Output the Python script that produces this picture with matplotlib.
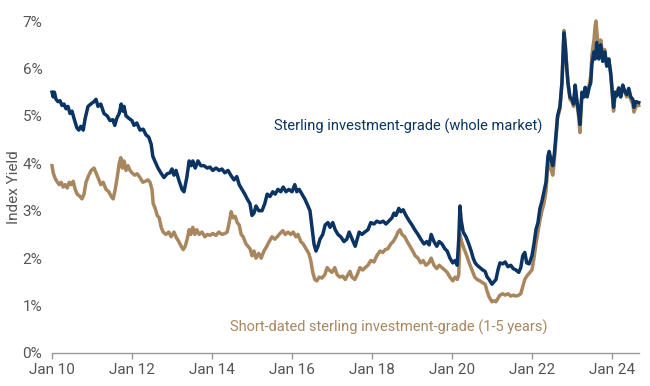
import matplotlib
matplotlib.use('Agg')
import matplotlib.pyplot as plt

# decimal years, yield in %
navy_t = [2010.00, 2010.03, 2010.06, 2010.10, 2010.15, 2010.20, 2010.25, 2010.30, 2010.35, 2010.40,
          2010.45, 2010.50, 2010.55, 2010.62, 2010.67, 2010.72, 2010.78, 2010.83, 2010.90, 2010.97,
          2011.05, 2011.10, 2011.15, 2011.22, 2011.30, 2011.38, 2011.45, 2011.52, 2011.57, 2011.62,
          2011.68, 2011.73, 2011.77, 2011.80, 2011.85, 2011.92, 2012.00, 2012.05, 2012.12, 2012.20,
          2012.28, 2012.35, 2012.42, 2012.48, 2012.52, 2012.57, 2012.65, 2012.72, 2012.80, 2012.88,
          2012.95, 2013.00, 2013.05, 2013.10, 2013.17, 2013.25, 2013.30, 2013.37, 2013.43, 2013.48,
          2013.52, 2013.58, 2013.65, 2013.72, 2013.80, 2013.88, 2013.95, 2014.02, 2014.10, 2014.18,
          2014.25, 2014.32, 2014.40, 2014.47, 2014.55, 2014.62, 2014.68, 2014.75, 2014.82, 2014.88,
          2014.95, 2015.00, 2015.05, 2015.10, 2015.17, 2015.25, 2015.32, 2015.38, 2015.45, 2015.52,
          2015.58, 2015.65, 2015.72, 2015.78, 2015.85, 2015.92, 2016.00, 2016.07, 2016.12, 2016.18,
          2016.25, 2016.32, 2016.40, 2016.45, 2016.50, 2016.55, 2016.60, 2016.65, 2016.70, 2016.77,
          2016.83, 2016.90, 2016.95, 2017.02, 2017.08, 2017.15, 2017.22, 2017.30, 2017.37, 2017.43,
          2017.48, 2017.53, 2017.58, 2017.63, 2017.68, 2017.75, 2017.82, 2017.90, 2017.97, 2018.05,
          2018.12, 2018.20, 2018.28, 2018.35, 2018.42, 2018.50, 2018.55, 2018.60, 2018.67, 2018.72,
          2018.78, 2018.85, 2018.92, 2019.00, 2019.07, 2019.15, 2019.22, 2019.30, 2019.37, 2019.43,
          2019.48, 2019.55, 2019.62, 2019.68, 2019.75, 2019.82, 2019.88, 2019.95, 2020.02, 2020.08,
          2020.13, 2020.17, 2020.20, 2020.23, 2020.28, 2020.35, 2020.42, 2020.48, 2020.53, 2020.58,
          2020.63, 2020.70, 2020.77, 2020.83, 2020.88, 2020.93, 2021.00, 2021.05, 2021.10, 2021.15,
          2021.20, 2021.27, 2021.33, 2021.40, 2021.47, 2021.53, 2021.60, 2021.67, 2021.72, 2021.77,
          2021.82, 2021.87, 2021.93, 2022.00, 2022.05, 2022.10, 2022.15, 2022.20, 2022.25, 2022.30,
          2022.35, 2022.40, 2022.43, 2022.47, 2022.52, 2022.56, 2022.60, 2022.64, 2022.70, 2022.75,
          2022.78, 2022.80, 2022.83, 2022.87, 2022.90, 2022.95, 2023.00, 2023.04, 2023.08, 2023.12,
          2023.17, 2023.20, 2023.25, 2023.30, 2023.33, 2023.38, 2023.43, 2023.47, 2023.50, 2023.55,
          2023.58, 2023.62, 2023.67, 2023.72, 2023.77, 2023.82, 2023.87, 2023.92, 2023.97, 2024.00,
          2024.04, 2024.08, 2024.12, 2024.17, 2024.22, 2024.27, 2024.32, 2024.37, 2024.42, 2024.47,
          2024.52, 2024.55, 2024.60, 2024.67]
navy_v = [5.50, 5.40, 5.50, 5.35, 5.30, 5.32, 5.22, 5.25, 5.15, 5.20,
          5.05, 5.10, 4.95, 4.75, 4.70, 4.78, 4.70, 4.95, 5.20, 5.25,
          5.30, 5.35, 5.20, 5.25, 5.05, 5.00, 4.90, 4.92, 4.80, 4.95,
          5.05, 5.25, 5.10, 5.20, 5.00, 4.95, 4.90, 4.80, 4.85, 4.70,
          4.72, 4.60, 4.55, 4.40, 4.15, 4.05, 3.90, 3.80, 3.70, 3.78,
          3.80, 3.88, 3.75, 3.85, 3.65, 3.45, 3.40, 3.70, 4.05, 3.95,
          4.05, 3.90, 4.05, 3.95, 3.95, 3.90, 3.92, 3.85, 3.90, 3.85,
          3.88, 3.80, 3.85, 3.75, 3.65, 3.72, 3.55, 3.45, 3.35, 3.25,
          3.15, 2.90, 2.95, 3.10, 3.00, 3.00, 3.15, 3.35, 3.30, 3.40,
          3.35, 3.45, 3.40, 3.50, 3.40, 3.45, 3.40, 3.55, 3.40, 3.45,
          3.35, 3.25, 3.10, 3.00, 2.65, 2.30, 2.15, 2.25, 2.40, 2.50,
          2.70, 2.75, 2.65, 2.75, 2.60, 2.50, 2.45, 2.35, 2.40, 2.55,
          2.45, 2.35, 2.25, 2.40, 2.55, 2.50, 2.55, 2.60, 2.75, 2.72,
          2.78, 2.75, 2.78, 2.72, 2.78, 2.85, 2.95, 2.90, 3.05, 2.98,
          3.02, 2.90, 2.80, 2.70, 2.60, 2.50, 2.40, 2.30, 2.35, 2.28,
          2.50, 2.35, 2.25, 2.35, 2.30, 2.20, 2.15, 2.00, 1.90, 1.95,
          1.85, 2.40, 3.10, 2.80, 2.55, 2.45, 2.30, 2.15, 2.00, 1.90,
          1.85, 1.80, 1.75, 1.72, 1.60, 1.55, 1.45, 1.50, 1.55, 1.75,
          1.90, 1.88, 1.92, 1.82, 1.85, 1.78, 1.75, 1.70, 1.80, 2.05,
          2.12, 1.90, 1.88, 2.05, 2.30, 2.60, 2.75, 3.05, 3.20, 3.40,
          3.60, 4.15, 4.25, 4.10, 3.95, 4.20, 4.60, 5.00, 5.20, 5.70,
          6.30, 6.75, 6.50, 6.00, 5.70, 5.40, 5.35, 5.25, 5.65, 5.35,
          5.05, 4.82, 5.50, 5.40, 5.60, 5.40, 5.60, 5.70, 6.10, 6.35,
          6.20, 6.55, 6.20, 6.50, 6.15, 6.35, 6.05, 6.20, 5.90, 5.60,
          5.18, 5.50, 5.42, 5.58, 5.40, 5.65, 5.52, 5.45, 5.58, 5.40,
          5.35, 5.18, 5.30, 5.28]

tan_t = [2010.00, 2010.03, 2010.07, 2010.12, 2010.18, 2010.23, 2010.28, 2010.33, 2010.38, 2010.43,
         2010.48, 2010.53, 2010.58, 2010.63, 2010.70, 2010.75, 2010.80, 2010.85, 2010.92, 2010.98,
         2011.05, 2011.10, 2011.15, 2011.22, 2011.28, 2011.35, 2011.42, 2011.48, 2011.53, 2011.58,
         2011.63, 2011.68, 2011.72, 2011.76, 2011.80, 2011.85, 2011.90, 2011.95, 2012.00, 2012.07,
         2012.13, 2012.20, 2012.27, 2012.33, 2012.40, 2012.45, 2012.50, 2012.53, 2012.58, 2012.63,
         2012.68, 2012.73, 2012.78, 2012.85, 2012.92, 2012.98, 2013.05, 2013.10, 2013.17, 2013.23,
         2013.28, 2013.33, 2013.38, 2013.43, 2013.47, 2013.52, 2013.57, 2013.62, 2013.68, 2013.75,
         2013.82, 2013.88, 2013.95, 2014.02, 2014.10, 2014.17, 2014.25, 2014.32, 2014.38, 2014.43,
         2014.48, 2014.53, 2014.58, 2014.63, 2014.68, 2014.73, 2014.78, 2014.85, 2014.90, 2014.95,
         2015.00, 2015.05, 2015.10, 2015.17, 2015.23, 2015.30, 2015.37, 2015.43, 2015.50, 2015.57,
         2015.63, 2015.70, 2015.77, 2015.83, 2015.90, 2015.97, 2016.03, 2016.10, 2016.15, 2016.22,
         2016.28, 2016.35, 2016.42, 2016.47, 2016.52, 2016.57, 2016.62, 2016.68, 2016.75, 2016.82,
         2016.88, 2016.93, 2017.00, 2017.07, 2017.13, 2017.20, 2017.27, 2017.33, 2017.40, 2017.45,
         2017.50, 2017.57, 2017.63, 2017.70, 2017.77, 2017.83, 2017.90, 2017.97, 2018.05, 2018.12,
         2018.20, 2018.27, 2018.33, 2018.40, 2018.47, 2018.53, 2018.60, 2018.65, 2018.70, 2018.75,
         2018.82, 2018.88, 2018.95, 2019.02, 2019.08, 2019.15, 2019.22, 2019.28, 2019.35, 2019.42,
         2019.48, 2019.55, 2019.62, 2019.68, 2019.75, 2019.82, 2019.88, 2019.95, 2020.02, 2020.08,
         2020.13, 2020.17, 2020.20, 2020.24, 2020.30, 2020.37, 2020.43, 2020.50, 2020.57, 2020.63,
         2020.70, 2020.77, 2020.83, 2020.88, 2020.93, 2021.00, 2021.05, 2021.10, 2021.15, 2021.20,
         2021.27, 2021.33, 2021.40, 2021.47, 2021.53, 2021.60, 2021.67, 2021.72, 2021.77, 2021.82,
         2021.87, 2021.93, 2022.00, 2022.05, 2022.10, 2022.15, 2022.20, 2022.25, 2022.30, 2022.35,
         2022.40, 2022.43, 2022.47, 2022.52, 2022.56, 2022.60, 2022.64, 2022.70, 2022.75, 2022.78,
         2022.80, 2022.83, 2022.87, 2022.90, 2022.95, 2023.00, 2023.04, 2023.08, 2023.12, 2023.17,
         2023.20, 2023.25, 2023.30, 2023.33, 2023.38, 2023.43, 2023.47, 2023.50, 2023.55, 2023.58,
         2023.60, 2023.63, 2023.67, 2023.72, 2023.77, 2023.82, 2023.87, 2023.92, 2023.97, 2024.00,
         2024.04, 2024.08, 2024.12, 2024.17, 2024.22, 2024.27, 2024.32, 2024.37, 2024.42, 2024.47,
         2024.52, 2024.55, 2024.60, 2024.67]
tan_v = [3.95, 3.80, 3.70, 3.62, 3.55, 3.60, 3.50, 3.55, 3.48, 3.60,
         3.55, 3.62, 3.45, 3.35, 3.30, 3.25, 3.35, 3.60, 3.75, 3.85,
         3.90, 3.80, 3.70, 3.55, 3.60, 3.45, 3.40, 3.30, 3.25, 3.45,
         3.70, 4.00, 4.12, 3.90, 4.05, 3.85, 3.95, 3.85, 3.80, 3.75,
         3.78, 3.70, 3.60, 3.62, 3.65, 3.60, 3.45, 3.15, 3.05, 2.90,
         2.85, 2.65, 2.55, 2.50, 2.55, 2.45, 2.55, 2.45, 2.35, 2.25,
         2.18, 2.25, 2.40, 2.60, 2.50, 2.65, 2.50, 2.60, 2.50, 2.55,
         2.45, 2.50, 2.48, 2.52, 2.48, 2.55, 2.50, 2.52, 2.55, 2.75,
         2.98, 2.85, 2.88, 2.75, 2.70, 2.50, 2.45, 2.30, 2.25, 2.20,
         2.05, 2.15, 2.00, 2.10, 2.00, 2.15, 2.25, 2.35, 2.45, 2.40,
         2.45, 2.52, 2.58, 2.50, 2.55, 2.50, 2.55, 2.45, 2.50, 2.35,
         2.30, 2.20, 2.10, 1.95, 1.70, 1.55, 1.52, 1.60, 1.58, 1.65,
         1.80, 1.75, 1.70, 1.80, 1.65, 1.60, 1.62, 1.55, 1.65, 1.72,
         1.60, 1.55, 1.65, 1.80, 1.75, 1.80, 1.85, 1.95, 1.92, 2.05,
         2.15, 2.12, 2.18, 2.20, 2.30, 2.35, 2.45, 2.55, 2.60, 2.50,
         2.45, 2.35, 2.25, 2.15, 2.05, 2.00, 1.90, 1.95, 1.85, 1.90,
         2.00, 1.85, 1.78, 1.85, 1.80, 1.75, 1.70, 1.60, 1.52, 1.60,
         1.55, 1.65, 2.50, 2.35, 2.20, 2.05, 1.90, 1.75, 1.60, 1.55,
         1.52, 1.48, 1.45, 1.30, 1.18, 1.08, 1.10, 1.08, 1.15, 1.22,
         1.25, 1.22, 1.25, 1.20, 1.22, 1.20, 1.22, 1.25, 1.40, 1.55,
         1.62, 1.68, 1.75, 2.00, 2.30, 2.55, 2.80, 3.00, 3.15, 3.40,
         3.95, 4.10, 3.90, 3.75, 4.05, 4.50, 4.95, 5.15, 5.70, 6.35,
         6.80, 6.55, 6.05, 5.70, 5.35, 5.30, 5.20, 5.60, 5.30, 4.95,
         4.65, 5.45, 5.40, 5.60, 5.45, 5.65, 5.85, 6.30, 6.60, 6.90,
         7.00, 6.70, 6.35, 6.60, 6.25, 6.40, 6.05, 6.20, 5.85, 5.55,
         5.10, 5.45, 5.50, 5.60, 5.40, 5.62, 5.50, 5.40, 5.50, 5.35,
         5.25, 5.08, 5.20, 5.22]

x_ticks = [2010, 2012, 2014, 2016, 2018, 2020, 2022, 2024]
x_labels = ['Jan 10', 'Jan 12', 'Jan 14', 'Jan 16', 'Jan 18', 'Jan 20', 'Jan 22', 'Jan 24']
y_ticks = [0, 1, 2, 3, 4, 5, 6, 7]

navy = '#0b3463'
tan = '#a8875f'
grey = '#555555'

plt.rcParams['font.family'] = ['Roboto', 'DejaVu Sans']

fig = plt.figure(figsize=(6.5, 3.86), dpi=100)
ax = fig.add_axes([0.08, 0.0855, 0.903, 0.86])

ax.plot(tan_t, tan_v, color=tan, lw=2.5, clip_on=False, solid_joinstyle='round')
ax.plot(navy_t, navy_v, color=navy, lw=2.5, clip_on=False, solid_joinstyle='round')

ax.set_xlim(2010, 2024.675)
ax.set_ylim(0, 7)

ax.set_xticks(x_ticks)
ax.set_xticklabels(x_labels)
ax.set_yticks(y_ticks)
ax.set_yticklabels([str(v) + '%' for v in y_ticks])

for s in ['top', 'right', 'left']:
    ax.spines[s].set_visible(False)
ax.spines['bottom'].set_color('#999999')
ax.spines['bottom'].set_linewidth(1)
ax.tick_params(axis='x', colors='#999999', length=4, width=1, labelcolor=grey, labelsize=11, pad=3)
ax.tick_params(axis='y', length=0, labelcolor=grey, labelsize=11, pad=7)

ax.set_ylabel('Index Yield', color=grey, fontsize=11)
ax.yaxis.set_label_coords(-0.053, 0.5)

ax.text(2015.55, 4.79, 'Sterling investment-grade (whole market)', color=navy, fontsize=10.5, va='center')
ax.text(2014.45, 0.55, 'Short-dated sterling investment-grade (1-5 years)', color=tan, fontsize=10.5, va='center')

fig.savefig('out.png', dpi=100)
